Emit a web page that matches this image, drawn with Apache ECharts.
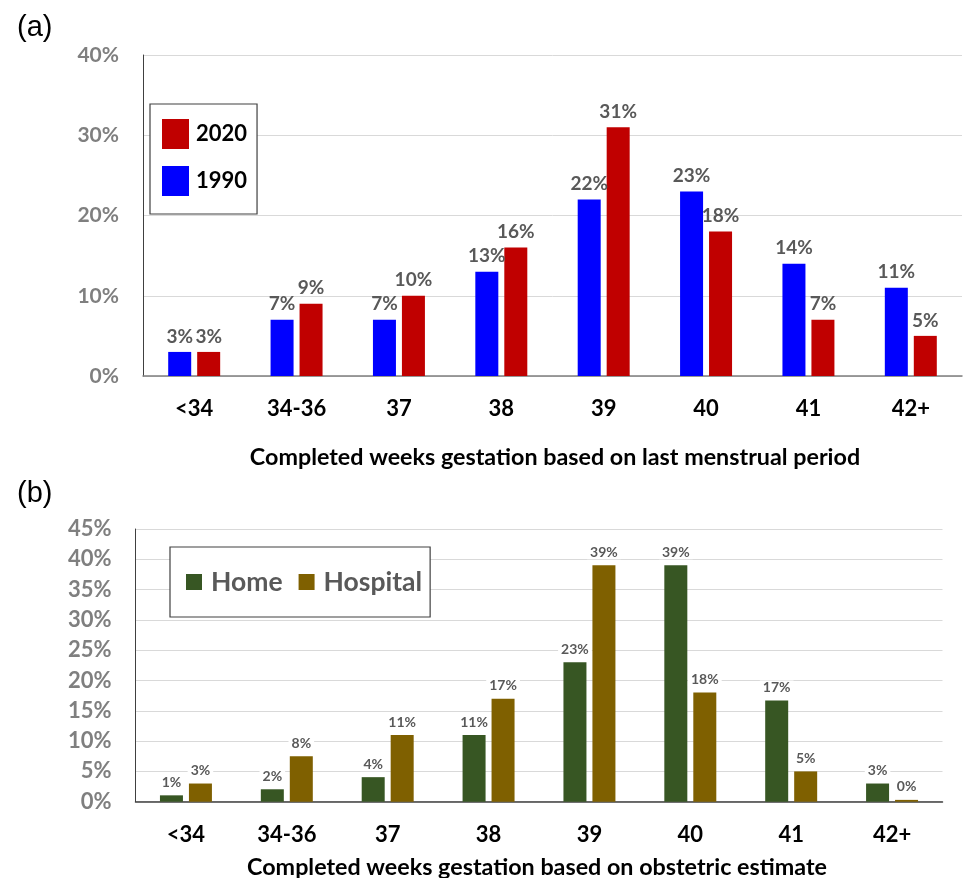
<!DOCTYPE html>
<html>
<head>
<meta charset="utf-8">
<script src="https://cdn.jsdelivr.net/npm/echarts@6/dist/echarts.min.js"></script>
<style>
  html, body { margin: 0; padding: 0; background: #fff; }
  #chart { width: 966px; height: 878px; }
</style>
</head>
<body>
<div id="chart"></div>
<script>
// Gestational age categories (completed weeks)
const weeks = ['<34', '34-36', '37', '38', '39', '40', '41', '42+'];

// Panel (a): share of births by weeks, last menstrual period
const lmp1990 = [3, 7, 7, 13, 22, 23, 14, 11];
const lmp2020 = [3, 9, 10, 16, 31, 18, 7, 5];

// Panel (b): share of births by weeks, obstetric estimate
const obstHome = [1.05, 2.05, 4.05, 11, 23, 39, 16.7, 3];
const obstHospital = [3, 7.5, 11, 17, 39, 18, 5, 0.3];

const FONT = 'Lato';
const GRAY = '#595959';
const pct = p => Math.round(p.value) + '%';

const chart = echarts.init(document.getElementById('chart'), null, { renderer: 'canvas' });

const yAxisBase = {
  type: 'value',
  axisLine: { show: true, lineStyle: { color: '#404040', width: 1 } },
  axisTick: { show: false },
  splitLine: { lineStyle: { color: '#d9d9d9', width: 1 } },
  axisLabel: { formatter: '{value}%', color: '#7f7f7f', fontFamily: FONT, fontWeight: 'bold', margin: 24 }
};
const xAxisBase = {
  type: 'category',
  data: weeks,
  axisLine: { lineStyle: { color: '#7f7f7f', width: 1.5 } },
  axisTick: { show: false },
  axisLabel: { color: '#000', fontFamily: FONT, fontWeight: 'bold', fontSize: 22, margin: 22 }
};

// Value labels for panel (b) sit on a white plate that breaks the grid lines
const labelB = {
  show: true, position: 'top', distance: 6, formatter: pct, color: GRAY,
  fontFamily: FONT, fontWeight: 'bold', fontSize: 14,
  backgroundColor: '#fff', padding: [0, 3]
};
const labelA = {
  show: true, position: 'top', distance: 6, formatter: pct, color: GRAY,
  fontFamily: FONT, fontWeight: 'bold', fontSize: 19
};

chart.setOption({
  animation: false,
  backgroundColor: '#fff',
  title: [
    { text: '(a)', left: 12, top: 8, textStyle: { fontFamily: 'Liberation Sans', fontWeight: 'normal', fontSize: 29, color: '#000' } },
    { text: '(b)', left: 12, top: 474, textStyle: { fontFamily: 'Liberation Sans', fontWeight: 'normal', fontSize: 29, color: '#000' } },
    { text: 'Completed weeks gestation based on last menstrual period', left: 550, top: 441, textAlign: 'center',
      textStyle: { fontFamily: FONT, fontWeight: 'bold', fontSize: 23.3, color: '#000' } },
    { text: 'Completed weeks gestation based on obstetric estimate', left: 532, top: 851, textAlign: 'center',
      textStyle: { fontFamily: FONT, fontWeight: 'bold', fontSize: 23.3, color: '#000' } }
  ],
  legend: [
    {
      data: ['2020', '1990'],
      orient: 'vertical',
      left: 150, top: 104,
      padding: [15, 10, 18, 12],
      itemGap: 17,
      itemWidth: 27, itemHeight: 30,
      borderColor: '#404040', borderWidth: 1.2,
      backgroundColor: '#fff',
      icon: 'rect',
      textStyle: { fontFamily: FONT, fontWeight: 'bold', fontSize: 22, color: '#000', padding: [0, 0, 0, 2] }
    },
    {
      data: ['Home', 'Hospital'],
      orient: 'horizontal',
      left: 170, top: 547,
      padding: [20, 8, 20, 16],
      itemGap: 16,
      itemWidth: 16, itemHeight: 16,
      borderColor: '#404040', borderWidth: 1.2,
      backgroundColor: '#fff',
      icon: 'rect',
      textStyle: { fontFamily: FONT, fontWeight: 'bold', fontSize: 26.5, lineHeight: 30, color: GRAY, padding: [0, 0, 0, 4] }
    }
  ],
  grid: [
    { left: 143, top: 55, width: 819, height: 321 },
    { left: 135.5, top: 529, width: 807, height: 272.7 }
  ],
  xAxis: [
    Object.assign({}, xAxisBase, { gridIndex: 0 }),
    Object.assign({}, xAxisBase, { gridIndex: 1, axisLine: { lineStyle: { color: '#404040', width: 1.5 } } })
  ],
  yAxis: [
    Object.assign({}, yAxisBase, { gridIndex: 0, min: 0, max: 40, interval: 10,
      axisLabel: Object.assign({}, yAxisBase.axisLabel, { fontSize: 21 }) }),
    Object.assign({}, yAxisBase, { gridIndex: 1, min: 0, max: 45, interval: 5,
      axisLabel: Object.assign({}, yAxisBase.axisLabel, { fontSize: 22 }) })
  ],
  series: [
    {
      name: '1990', type: 'bar', xAxisIndex: 0, yAxisIndex: 0,
      data: lmp1990, barWidth: 23, barGap: '26%',
      itemStyle: { color: '#0000ff' },
      label: labelA
    },
    {
      name: '2020', type: 'bar', xAxisIndex: 0, yAxisIndex: 0,
      data: lmp2020, barWidth: 23, barGap: '26%',
      itemStyle: { color: '#c00000' },
      label: labelA
    },
    {
      name: 'Home', type: 'bar', xAxisIndex: 1, yAxisIndex: 1,
      data: obstHome, barWidth: 23, barGap: '26%',
      itemStyle: { color: '#375623' },
      label: labelB
    },
    {
      name: 'Hospital', type: 'bar', xAxisIndex: 1, yAxisIndex: 1,
      data: obstHospital, barWidth: 23, barGap: '26%',
      itemStyle: { color: '#7f6000' },
      label: labelB
    }
  ]
});
</script>
</body>
</html>
